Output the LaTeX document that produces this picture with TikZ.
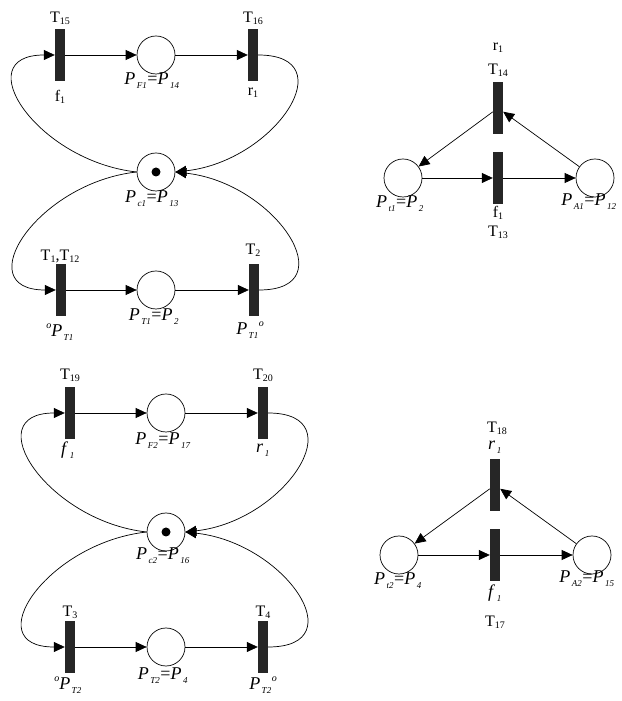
\documentclass[tikz,border=0pt]{standalone}
\usepackage{fontspec}
\setmainfont{Liberation Serif}
\usetikzlibrary{arrows.meta}
\newcommand{\ts}[1]{\raisebox{-0.3ex}{\fontsize{10}{10}\selectfont #1}}
\newcommand{\pidx}[1]{\kern1.5pt\raisebox{-0.5ex}{\fontsize{9}{9}\selectfont\itshape #1}\kern0.5pt}
\newcommand{\ring}{\raisebox{0.9ex}{\fontsize{10}{10}\selectfont\itshape o}}
\begin{document}
\begin{tikzpicture}
        [x=1pt, y=1pt,
         place_style/.style={circle,draw=black,line width=0.7pt,minimum size=38pt,inner sep=0pt},
         trans_style/.style={rectangle,fill=black!85,minimum width=10pt,minimum height=52pt,inner sep=0pt},
         token_style/.style={circle,fill=black,minimum size=9pt,inner sep=0pt},
         edge_style/.style={draw=black,line width=0.7pt,-{Triangle[length=11pt,width=10pt]}},
         text_style/.style={inner sep=0pt,font=\fontsize{16}{18}\selectfont},
         ptext_style/.style={inner sep=0pt,font=\fontsize{18}{20}\selectfont}]
            \useasboundingbox (0,0) rectangle (621,701);
            % net 1
            \node[trans_style] (t15) at (60, 646) {};
            \node[place_style] (pf1) at (156, 646) {};
            \node[trans_style] (t16) at (253, 646) {};
            \node[place_style] (pc1) at (156, 529) {};
            \node[token_style] (k1) at (156, 529) {};
            \node[trans_style] (t1) at (61, 411) {};
            \node[place_style] (pt1) at (156, 411) {};
            \node[trans_style] (t2) at (254, 411) {};
            \node[text_style] (l15) at (60, 683) {T\ts{15}};
            \node[text_style] (l16) at (253, 683) {T\ts{16}};
            \node[text_style] (lf1) at (60, 604) {f\ts{1}};
            \node[text_style] (lr1) at (253, 608) {r\ts{1}};
            \node[ptext_style] (lpf1) at (152, 620) {\textit{P}\pidx{F1}=\textit{P}\pidx{14}};
            \node[ptext_style] (lpc1) at (152, 502) {\textit{P}\pidx{c1}=\textit{P}\pidx{13}};
            \node[text_style] (l1) at (60, 445) {T\ts{1},T\ts{12}};
            \node[text_style] (l2) at (253, 451) {T\ts{2}};
            \node[ptext_style] (lpre1) at (60, 369) {\ring\textit{P}\pidx{T1}};
            \node[ptext_style] (lpt1) at (154, 384) {\textit{P}\pidx{T1}=\textit{P}\pidx{2}};
            \node[ptext_style] (lpost1) at (250, 371) {\textit{P}\pidx{T1}\ring};
            \draw[edge_style]  (t15) edge (pf1);
            \draw[edge_style]  (pf1) edge (t16);
            \draw[edge_style]  (t1) edge (pt1);
            \draw[edge_style]  (pt1) edge (t2);
            \draw[edge_style]  (t16.east) .. controls +(87,0) and +(100,11) .. (pc1.east);
            \draw[edge_style]  (pc1.west) .. controls +(-100,11) and +(-88,0) .. (t15.west);
            \draw[edge_style]  (pc1.west) .. controls +(-100,-11) and +(-88,0) .. (t1.west);
            \draw[edge_style]  (t2.east) .. controls +(87,0) and +(100,-11) .. (pc1.east);
            % net 2
            \node[trans_style] (t14) at (498, 593) {};
            \node[trans_style] (t13) at (498, 523) {};
            \node[place_style] (pt1b) at (403, 523) {};
            \node[place_style] (pa1) at (595, 523) {};
            \node[text_style] (lr1b) at (498, 653) {r\ts{1}};
            \node[text_style] (l14) at (498, 631) {T\ts{14}};
            \node[text_style] (lf1b) at (498, 488) {f\ts{1}};
            \node[text_style] (l13) at (498, 469) {T\ts{13}};
            \node[ptext_style] (lpt1b) at (400, 497) {\textit{P}\pidx{t1}=\textit{P}\pidx{2}};
            \node[ptext_style] (lpa1) at (589, 499) {\textit{P}\pidx{A1}=\textit{P}\pidx{12}};
            \draw[edge_style]  (t14) edge (pt1b);
            \draw[edge_style]  (pt1b) edge (t13);
            \draw[edge_style]  (t13) edge (pa1);
            \draw[edge_style]  (pa1) edge (t14);
            % net 3
            \node[trans_style] (t19) at (70, 288) {};
            \node[place_style] (pf2) at (166, 288) {};
            \node[trans_style] (t20) at (263, 288) {};
            \node[place_style] (pc2) at (166, 169) {};
            \node[token_style] (k2) at (166, 169) {};
            \node[trans_style] (t3) at (70, 54) {};
            \node[place_style] (pt2) at (166, 54) {};
            \node[trans_style] (t4) at (263, 54) {};
            \node[text_style] (l19) at (70, 326) {T\ts{19}};
            \node[text_style] (l20) at (263, 326) {T\ts{20}};
            \node[ptext_style] (lf2) at (68, 251) {\textit{f}\pidx{1}};
            \node[ptext_style] (lr2) at (263, 251) {\textit{r}\pidx{1}};
            \node[ptext_style] (lpf2) at (163, 260) {\textit{P}\pidx{F2}=\textit{P}\pidx{17}};
            \node[ptext_style] (lpc2) at (163, 145) {\textit{P}\pidx{c2}=\textit{P}\pidx{16}};
            \node[text_style] (l3) at (70, 89) {T\ts{3}};
            \node[text_style] (l4) at (263, 89) {T\ts{4}};
            \node[ptext_style] (lpre2) at (68, 16) {\ring\textit{P}\pidx{T2}};
            \node[ptext_style] (lpt2) at (163, 25) {\textit{P}\pidx{T2}=\textit{P}\pidx{4}};
            \node[ptext_style] (lpost2) at (263, 16) {\textit{P}\pidx{T2}\ring};
            \draw[edge_style]  (t19) edge (pf2);
            \draw[edge_style]  (pf2) edge (t20);
            \draw[edge_style]  (t3) edge (pt2);
            \draw[edge_style]  (pt2) edge (t4);
            \draw[edge_style]  (t20.east) .. controls +(87,0) and +(100,11) .. (pc2.east);
            \draw[edge_style]  (pc2.west) .. controls +(-100,11) and +(-88,0) .. (t19.west);
            \draw[edge_style]  (pc2.west) .. controls +(-100,-11) and +(-88,0) .. (t3.west);
            \draw[edge_style]  (t4.east) .. controls +(87,0) and +(100,-11) .. (pc2.east);
            % net 4
            \node[trans_style] (t18) at (495, 216) {};
            \node[trans_style] (t17) at (495, 146) {};
            \node[place_style] (pt2b) at (399, 146) {};
            \node[place_style] (pa2) at (592, 146) {};
            \node[text_style] (l18) at (497, 273) {T\ts{18}};
            \node[ptext_style] (lr2b) at (495, 254) {\textit{r}\pidx{1}};
            \node[ptext_style] (lf2b) at (495, 108) {\textit{f}\pidx{1}};
            \node[text_style] (l17) at (495, 79) {T\ts{17}};
            \node[ptext_style] (lpt2b) at (398, 120) {\textit{P}\pidx{t2}=\textit{P}\pidx{4}};
            \node[ptext_style] (lpa2) at (587, 122) {\textit{P}\pidx{A2}=\textit{P}\pidx{15}};
            \draw[edge_style]  (t18) edge (pt2b);
            \draw[edge_style]  (pt2b) edge (t17);
            \draw[edge_style]  (t17) edge (pa2);
            \draw[edge_style]  (pa2) edge (t18);
        \end{tikzpicture}
\end{document}
